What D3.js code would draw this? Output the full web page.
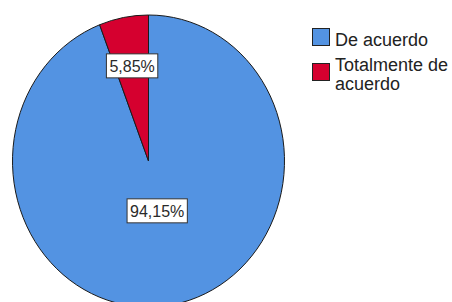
<!DOCTYPE html>
<html>
<head>
<meta charset="utf-8">
<script src="https://cdn.jsdelivr.net/npm/d3@7"></script>
<style>
  body { margin: 0; background: #fff; }
  text { font-family: Arial, "Liberation Sans", sans-serif; }
</style>
</head>
<body>
<div id="container"></div>
<script>
var categories = ["De acuerdo", "Totalmente de acuerdo"];
var values = [94.15, 5.85];
var labels = ["94,15%", "5,85%"];
var colors = ["#5393e2", "#d5002f"];

var width = 452,
    height = 302;

// the pie is slightly taller than wide in the picture
var cx = 148.5, cy = 161, rx = 136, ry = 146;

var svg = d3.select("#container").append("svg")
    .attr("width", width)
    .attr("height", height);

var pie = d3.pie().sort(null).value(function (d) { return d; });
var arcs = pie(values);

var arc = d3.arc().innerRadius(0).outerRadius(ry);

var g = svg.append("g")
    .attr("transform", "translate(" + cx + "," + cy + ") scale(" + (rx / ry) + ",1)");

g.selectAll("path").data(arcs)
    .enter().append("path")
    .attr("d", arc)
    .attr("fill", function (d, i) { return colors[i]; })
    .attr("stroke", "#1a1a1a")
    .attr("stroke-width", 1)
    .attr("vector-effect", "non-scaling-stroke");

// label distance from centre, as share of radius
var labelR = [0.35, 0.66];

var lab = svg.selectAll(".lab").data(arcs)
    .enter().append("g")
    .attr("class", "lab")
    .attr("transform", function (d, i) {
        var a = (d.startAngle + d.endAngle) / 2;
        var x = cx + Math.sin(a) * rx * labelR[i];
        var y = cy - Math.cos(a) * ry * labelR[i];
        return "translate(" + x + "," + y + ")";
    });

lab.append("text")
    .attr("text-anchor", "middle")
    .attr("dy", "0.35em")
    .attr("font-size", 16)
    .attr("fill", "#2a2a2a")
    .text(function (d, i) { return labels[i]; });

lab.insert("rect", "text")
    .each(function () {
        var bb = this.parentNode.querySelector("text").getBBox();
        d3.select(this)
            .attr("x", bb.x - 3)
            .attr("y", bb.y - 4)
            .attr("width", bb.width + 6)
            .attr("height", bb.height + 7);
    })
    .attr("fill", "#fff")
    .attr("stroke", "#333")
    .attr("stroke-width", 1);

// legend
var legend = svg.append("g").attr("transform", "translate(312,28)");
var rows = [0, 35];
var item = legend.selectAll(".item").data(categories)
    .enter().append("g")
    .attr("class", "item")
    .attr("transform", function (d, i) { return "translate(0," + rows[i] + ")"; });

item.append("rect")
    .attr("x", 0.5).attr("y", 0.5)
    .attr("width", 17).attr("height", 17)
    .attr("fill", function (d, i) { return colors[i]; })
    .attr("stroke", "#222");

item.append("text")
    .attr("x", 23)
    .attr("font-size", 18)
    .attr("fill", "#222")
    .each(function (d, i) {
        var t = d3.select(this);
        var lines = i === 1 ? ["Totalmente de", "acuerdo"] : [d];
        var y0 = i === 1 ? 8 : 17.5;
        lines.forEach(function (l, k) {
            t.append("tspan").attr("x", 23).attr("y", y0 + k * 19).text(l);
        });
    });
</script>
</body>
</html>
